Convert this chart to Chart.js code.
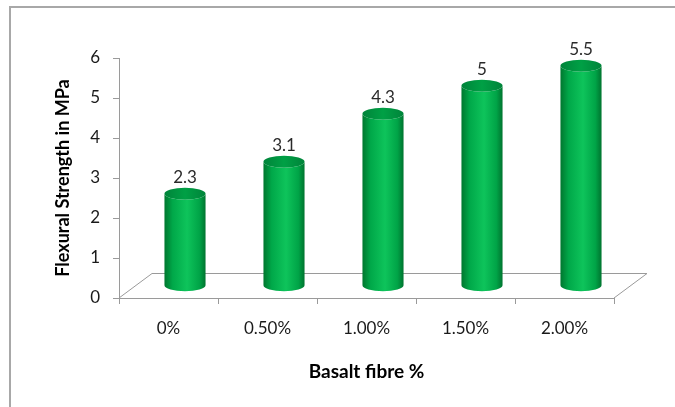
<!DOCTYPE html>
<html>
<head>
<meta charset="utf-8">
<script src="https://cdn.jsdelivr.net/npm/chart.js@4/dist/chart.umd.min.js"></script>
<style>
  html, body { margin: 0; padding: 0; background: #fff; }
  #wrap { width: 675px; height: 407px; }
</style>
</head>
<body>
<div id="wrap"><canvas id="myChart" width="675" height="407"></canvas></div>
<script>
// data
const categories = ['0%', '0.50%', '1.00%', '1.50%', '2.00%'];
const strength = [2.3, 3.1, 4.3, 5, 5.5];
const yTicks = [0, 1, 2, 3, 4, 5, 6];

const DX = 33, DY = 24.5;   // depth of the fake 3d floor

// floor, outer frame, cylinders and value labels
const cylinders = {
  id: 'cylinders',
  beforeDraw(chart) {
    const ctx = chart.ctx;
    ctx.save();
    ctx.strokeStyle = '#a8a8a8';
    ctx.lineWidth = 2;
    ctx.beginPath();
    ctx.moveTo(10, 407);
    ctx.lineTo(10, 7);
    ctx.lineTo(675, 7);
    ctx.stroke();
    ctx.restore();
  },
  beforeDatasetsDraw(chart) {
    const ctx = chart.ctx;
    const x = chart.scales.x, y = chart.scales.y;
    const y0 = y.getPixelForValue(0);
    ctx.save();
    ctx.strokeStyle = '#9a9a9a';
    ctx.lineWidth = 1;
    ctx.beginPath();
    ctx.moveTo(x.left, y0);
    ctx.lineTo(x.left + DX, y0 - DY);
    ctx.lineTo(x.right + DX, y0 - DY);
    ctx.lineTo(x.right, y0);
    ctx.stroke();
    ctx.restore();
  },
  afterDatasetsDraw(chart) {
    const ctx = chart.ctx;
    const meta = chart.getDatasetMeta(0);
    meta.data.forEach(function(bar, i) {
      const cx = bar.x + DX / 2;
      const top = bar.y - DY / 2;
      const bottom = bar.base - DY / 2;
      const rx = bar.width / 2;
      const ry = 6;

      const g = ctx.createLinearGradient(cx - rx, 0, cx + rx, 0);
      g.addColorStop(0, '#00772f');
      g.addColorStop(0.2, '#00a849');
      g.addColorStop(0.55, '#0ec45b');
      g.addColorStop(0.85, '#00a447');
      g.addColorStop(1, '#00742f');

      ctx.save();
      ctx.fillStyle = g;
      ctx.beginPath();
      ctx.moveTo(cx - rx, top);
      ctx.lineTo(cx - rx, bottom);
      ctx.ellipse(cx, bottom, rx, ry, 0, Math.PI, 0, true);
      ctx.lineTo(cx + rx, top);
      ctx.ellipse(cx, top, rx, ry, 0, 0, Math.PI, false);
      ctx.closePath();
      ctx.fill();

      const gt = ctx.createLinearGradient(cx - rx, 0, cx + rx, 0);
      gt.addColorStop(0, '#00843a');
      gt.addColorStop(0.5, '#00a045');
      gt.addColorStop(1, '#00843a');
      ctx.fillStyle = gt;
      ctx.beginPath();
      ctx.ellipse(cx, top, rx, ry, 0, 0, Math.PI * 2);
      ctx.fill();

      ctx.fillStyle = '#2a2a2a';
      ctx.font = '17px Lato';
      ctx.textAlign = 'center';
      ctx.textBaseline = 'bottom';
      ctx.fillText(String(strength[i]), cx, top - ry - 2);
      ctx.restore();
    });
  }
};

new Chart(document.getElementById('myChart'), {
  type: 'bar',
  data: {
    labels: categories,
    datasets: [{
      data: strength,
      backgroundColor: 'rgba(0,0,0,0)',
      borderWidth: 0,
      barPercentage: 0.415,
      categoryPercentage: 1
    }]
  },
  options: {
    responsive: false,
    animation: false,
    layout: { padding: { left: 50, top: 58, right: 61, bottom: 0 } },
    plugins: {
      legend: { display: false },
      tooltip: { enabled: false }
    },
    scales: {
      x: {
        offset: true,
        grid: { offset: true, drawOnChartArea: false, tickLength: 6, color: '#9a9a9a' },
        border: { color: '#9a9a9a' },
        ticks: { color: '#1a1a1a', font: { family: 'Lato', size: 17 }, padding: 14, maxRotation: 0 },
        title: {
          display: true,
          text: 'Basalt fibre %',
          color: '#000',
          font: { family: 'Lato', size: 19, weight: 'bold' },
          padding: { top: 0, bottom: 24 }
        },
        afterFit(scale) { scale.height = 109; }
      },
      y: {
        min: 0,
        max: 6,
        afterBuildTicks(scale) { scale.ticks = yTicks.map(v => ({ value: v })); },
        grid: { drawOnChartArea: false, tickLength: 6, color: '#9a9a9a' },
        border: { color: '#9a9a9a' },
        ticks: { color: '#1a1a1a', font: { family: 'Lato', size: 17 }, padding: 13 },
        title: {
          display: true,
          text: 'Flexural Strength in MPa',
          color: '#000',
          font: { family: 'Lato', size: 18, weight: 'bold' },
          padding: { top: 2, bottom: 0 }
        },
        afterFit(scale) { scale.width = 69; }
      }
    }
  },
  plugins: [cylinders]
});
</script>
</body>
</html>
